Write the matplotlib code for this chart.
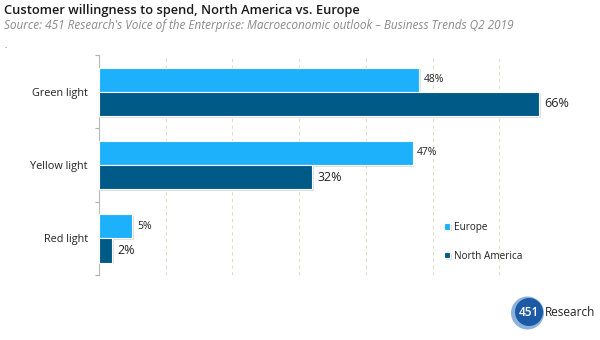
import matplotlib
matplotlib.use("Agg")
import matplotlib.pyplot as plt
from matplotlib.patches import Ellipse
import matplotlib.patheffects as pe
import numpy as np

categories = ["Green light", "Yellow light", "Red light"]
europe = [48, 47, 5]
north_america = [66, 32, 2]
series_names = ["Europe", "North America"]

title = "Customer willingness to spend, North America vs. Europe"
subtitle = "Source: 451 Research's Voice of the Enterprise: Macroeconomic outlook \u2013 Business Trends Q2 2019"

col_eu = "#1eb1fb"
col_na = "#005a87"
grid_col = "#e4ddc6"

plt.rcParams["font.family"] = ["Open Sans", "DejaVu Sans"]

W, H = 600, 340
fig = plt.figure(figsize=(W / 100, H / 100), dpi=100)
fig.patch.set_facecolor("white")
ax = fig.add_axes([0.165, 0.191, 0.7783, 0.647])

y = np.arange(len(categories))
h = 0.33
shadow = [pe.SimplePatchShadow(offset=(1.2, -1.2), shadow_rgbFace="#c8c8c8", alpha=0.6), pe.Normal()]
b1 = ax.barh(y - h / 2, europe, height=h, color=col_eu, edgecolor="white", linewidth=0.8,
             label=series_names[0], zorder=3, path_effects=shadow)
b2 = ax.barh(y + h / 2, north_america, height=h, color=col_na, edgecolor="white", linewidth=0.8,
             label=series_names[1], zorder=3, path_effects=shadow)

for rect, v in zip(b1, europe):
    ax.text(rect.get_width() + 0.7, rect.get_y() + rect.get_height() / 2, f"{v}%",
            va="center", ha="left", fontsize=7.5, color="#222222")
for rect, v in zip(b2, north_america):
    ax.text(rect.get_width() + 0.7, rect.get_y() + rect.get_height() / 2, f"{v}%",
            va="center", ha="left", fontsize=9, color="#222222")

ax.set_xlim(0, 70)
ax.set_ylim(2.5, -0.5)
ax.set_xticks(np.arange(10, 71, 10))
ax.xaxis.grid(True, color=grid_col, linestyle=(0, (3, 3)), linewidth=0.8, zorder=0)
ax.tick_params(axis="x", length=0, labelbottom=False)

ax.set_yticks(y)
ax.set_yticklabels(categories, fontsize=7.8, color="#222222")
ax.set_yticks([-0.5, 0.5, 1.5, 2.5], minor=True)
ax.tick_params(axis="y", which="major", length=0, pad=8)
ax.tick_params(axis="y", which="minor", length=3, color="#b0b0b0", width=0.8)

for s in ["top", "right", "bottom"]:
    ax.spines[s].set_visible(False)
ax.spines["left"].set_color("#b8b8b8")
ax.spines["left"].set_linewidth(0.8)

leg = ax.legend(loc="lower left", bbox_to_anchor=(0.72, 0.02), frameon=False, fontsize=7.2,
                handlelength=0.6, handleheight=0.6, handletextpad=0.35, labelspacing=1.75)
for t in leg.get_texts():
    t.set_color("#222222")

fig.text(0.007, 0.968, title, fontsize=9.3, fontweight="semibold", color="#1a1a1a", va="center")
fig.text(0.007, 0.926, subtitle, fontsize=8.5, style="italic", color="#8a8a8a", va="center")
fig.text(0.007, 0.862, ".", fontsize=6, color="#555555", va="center")

# logo: round badge with the number, then the word mark
cx, cy = 527.5, 313.0
def badge(x, yy, r, color, alpha=1.0):
    return Ellipse((x / W, 1 - yy / H), 2 * r / W, 2 * r / H, transform=fig.transFigure,
                   facecolor=color, edgecolor="none", alpha=alpha)
fig.patches.extend([badge(cx, cy, 16.5, "#6f9fd4", 0.8),
                    badge(cx + 1.5, cy - 1.0, 14.0, "#1c5aa5")])
fig.text((cx + 1) / W, 1 - cy / H, "451", fontsize=8.5, color="white", ha="center", va="center",
         fontweight="semibold")
fig.text(545 / W, 1 - cy / H, "Research", fontsize=8.5, color="#222222", ha="left", va="center")

fig.savefig("out.png", dpi=100, facecolor="white")
